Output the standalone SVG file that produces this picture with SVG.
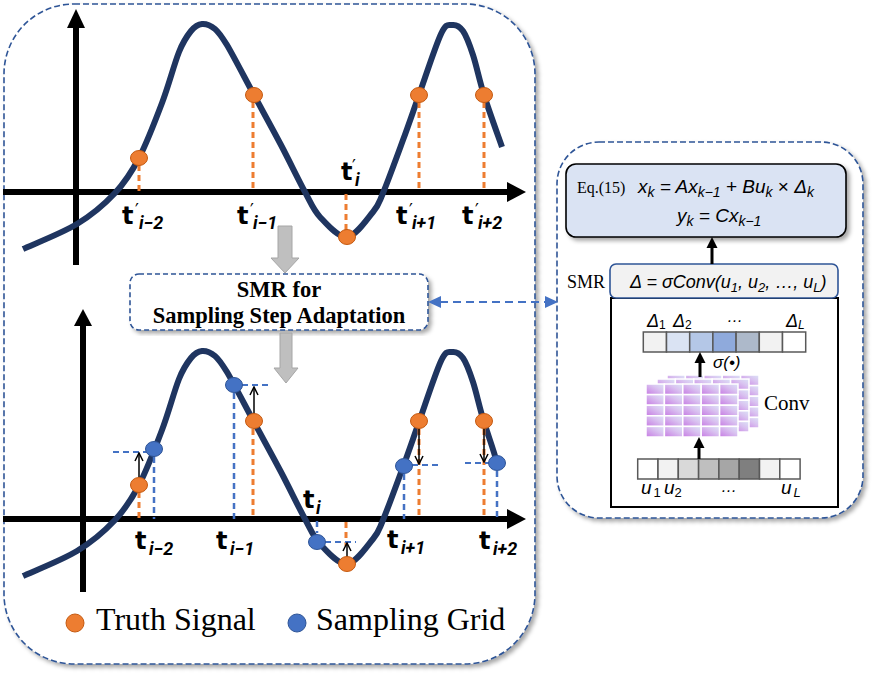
<svg xmlns="http://www.w3.org/2000/svg" xmlns:xlink="http://www.w3.org/1999/xlink" width="875" height="676" viewBox="0 0 875 676">
<defs>
<style>
.panel{fill:#fff;stroke:#2F5597;stroke-width:1.6;stroke-dasharray:6 3}
.axis{stroke:#000;stroke-width:6;fill:none}
.curve{fill:none;stroke:#1F3560;stroke-width:6;stroke-linecap:butt;stroke-linejoin:round}
.od{stroke:#ED7D31;stroke-width:3;stroke-dasharray:6 4;fill:none}
.bd{stroke:#4472C4;stroke-width:2.5;stroke-dasharray:6 4;fill:none}
.bdh{stroke:#4472C4;stroke-width:2;stroke-dasharray:6 4;fill:none}
.op{fill:#ED7D31;stroke:#C55A11;stroke-width:1}
.bp{fill:#4472C4;stroke:#2F5597;stroke-width:1}
.tl{font-family:"DejaVu Sans",sans-serif;font-weight:bold;font-size:24px;fill:#000}
.ts{font-family:Roboto,"Liberation Sans",sans-serif;font-weight:bold;font-style:italic;font-size:18px}
.pr{font-family:"DejaVu Sans",sans-serif;font-weight:normal;font-size:17px}
.serif{font-family:"Liberation Serif","Times New Roman",serif;fill:#000}
.math{font-family:"Liberation Sans",Arial,sans-serif;font-style:italic;fill:#000}
.cell{stroke:#595959;stroke-width:1.5}
.gray{fill:#BFBFBF;stroke:#A6A6A6;stroke-width:1}
.blk{stroke:#000;stroke-width:3;fill:none}
.thin{stroke:#000;stroke-width:1.5;fill:none}
</style>
<filter id="sh" x="-10%" y="-10%" width="120%" height="120%">
<feDropShadow dx="3" dy="3" stdDeviation="2" flood-color="#000" flood-opacity="0.35"/>
</filter>
<marker id="chev" markerUnits="userSpaceOnUse" viewBox="0 0 10 10" refX="9" refY="5" markerWidth="10" markerHeight="10" orient="auto">
<path d="M1,1 L9,5 L1,9" fill="none" stroke="#000" stroke-width="1.5"/>
</marker>
<linearGradient id="cg" x1="0" y1="1" x2="1" y2="0">
<stop offset="0" stop-color="#C77BE3"/>
<stop offset="0.6" stop-color="#D9C2F0"/>
<stop offset="1" stop-color="#DCE4F7"/>
</linearGradient>
<g id="convLayer">
<rect x="0" y="0" width="92" height="53" fill="#fff"/>
<g fill="url(#cg)" stroke="#fff" stroke-width="1.5">
<rect x="0" y="0" width="18.4" height="10.6"/><rect x="18.4" y="0" width="18.4" height="10.6"/><rect x="36.8" y="0" width="18.4" height="10.6"/><rect x="55.2" y="0" width="18.4" height="10.6"/><rect x="73.6" y="0" width="18.4" height="10.6"/>
<rect x="0" y="10.6" width="18.4" height="10.6"/><rect x="18.4" y="10.6" width="18.4" height="10.6"/><rect x="36.8" y="10.6" width="18.4" height="10.6"/><rect x="55.2" y="10.6" width="18.4" height="10.6"/><rect x="73.6" y="10.6" width="18.4" height="10.6"/>
<rect x="0" y="21.2" width="18.4" height="10.6"/><rect x="18.4" y="21.2" width="18.4" height="10.6"/><rect x="36.8" y="21.2" width="18.4" height="10.6"/><rect x="55.2" y="21.2" width="18.4" height="10.6"/><rect x="73.6" y="21.2" width="18.4" height="10.6"/>
<rect x="0" y="31.8" width="18.4" height="10.6"/><rect x="18.4" y="31.8" width="18.4" height="10.6"/><rect x="36.8" y="31.8" width="18.4" height="10.6"/><rect x="55.2" y="31.8" width="18.4" height="10.6"/><rect x="73.6" y="31.8" width="18.4" height="10.6"/>
<rect x="0" y="42.4" width="18.4" height="10.6"/><rect x="18.4" y="42.4" width="18.4" height="10.6"/><rect x="36.8" y="42.4" width="18.4" height="10.6"/><rect x="55.2" y="42.4" width="18.4" height="10.6"/><rect x="73.6" y="42.4" width="18.4" height="10.6"/>
</g>
</g>
<path id="sig" d="M23,249 C32,244.8 61.7,233.3 77,224 C92.3,214.7 104.7,204 115,193 C125.3,182 131.2,173 139,158 C146.8,143 155.3,120.7 162,103 C168.7,85.3 174.2,64 179,52 C183.8,40 187.2,35.7 191,31 C194.8,26.3 198,24.3 202,24 C206,23.7 210.8,25.5 215,29 C219.2,32.5 222,37 227,45 C233.5,56 245,78.3 254,95 C263,111.7 272.5,128.8 281,145 C289.5,161.2 298.5,180 305,192 C311.5,204 313,209.5 320,217 C327,224.5 338.2,237.8 347,237 C355.8,236.2 367,219.3 373,212 C379,204.7 378,205 383,193 C388,181 397,156.3 403,140 C409,123.7 412.7,112.7 419,95 C425.3,77.3 435.5,45.7 441,34 C446.5,22.3 448.3,25.5 452,25 C455.7,24.5 459.5,26 463,31 C466.5,36 469.5,44.3 473,55 C476.5,65.7 479.2,79.7 484,95"/>
</defs>

<rect width="875" height="676" fill="#fff"/>

<g id="left-panel">
<rect class="panel" x="4" y="4" width="531" height="660" rx="70" ry="70" filter="url(#sh)"/>
</g>
<g id="right-panel">
<rect class="panel" x="557" y="142" width="306" height="376" rx="42" ry="42" filter="url(#sh)"/>
</g>

<g id="top-graph">
<line class="axis" x1="76" y1="265" x2="76" y2="26"/>
<polygon points="67,28 85,28 76,9" fill="#000"/>
<line class="axis" x1="3" y1="192" x2="509" y2="192"/>
<polygon points="507,182 507,202 526,192" fill="#000"/>
<use href="#sig" class="curve"/>
<path class="curve" d="M484,95 C488.8,110.3 499,138.3 502,147"/>
<line class="od" x1="139" y1="165" x2="139" y2="192"/>
<line class="od" x1="253" y1="102" x2="253" y2="192"/>
<line class="od" x1="346" y1="194" x2="346" y2="230"/>
<line class="od" x1="419" y1="102" x2="419" y2="192"/>
<line class="od" x1="484" y1="102" x2="484" y2="192"/>
<ellipse class="op" cx="139" cy="158" rx="8.5" ry="7.5"/>
<ellipse class="op" cx="254" cy="95" rx="8.5" ry="7.5"/>
<ellipse class="op" cx="347" cy="237" rx="8.5" ry="7.5"/>
<ellipse class="op" cx="419" cy="95" rx="8.5" ry="7.5"/>
<ellipse class="op" cx="484" cy="95" rx="8.5" ry="7.5"/>
<text class="tl" x="122" y="224">t<tspan class="pr" x="135" y="216">′</tspan><tspan class="ts" x="139" y="229">i−2</tspan></text>
<text class="tl" x="237" y="224">t<tspan class="pr" x="250" y="216">′</tspan><tspan class="ts" x="253" y="229">i−1</tspan></text>
<text class="tl" x="341" y="180">t<tspan class="pr" x="352" y="172">′</tspan><tspan class="ts" x="355" y="186">i</tspan></text>
<text class="tl" x="396" y="224">t<tspan class="pr" x="409" y="216">′</tspan><tspan class="ts" x="412" y="229">i+1</tspan></text>
<text class="tl" x="462" y="224">t<tspan class="pr" x="475" y="216">′</tspan><tspan class="ts" x="478" y="229">i+2</tspan></text>
</g>

<g id="bottom-graph">
<line class="axis" x1="83" y1="592" x2="83" y2="324"/>
<polygon points="74,326 92,326 83,309" fill="#000"/>
<line class="axis" x1="3" y1="519" x2="509" y2="519"/>
<polygon points="507,509 507,529 526,519" fill="#000"/>
<g transform="translate(0,327)">
<use href="#sig" class="curve"/>
<path class="curve" d="M484,95 C488.8,110.3 494,124 497,136"/>
</g>
<line class="od" x1="139" y1="492" x2="139" y2="519"/>
<line class="od" x1="253" y1="429" x2="253" y2="519"/>
<line class="od" x1="346" y1="522" x2="346" y2="546"/>
<line class="od" x1="419" y1="429" x2="419" y2="519"/>
<line class="od" x1="484" y1="429" x2="484" y2="519"/>
<line class="bd" x1="154" y1="457" x2="154" y2="519"/>
<line class="bd" x1="234" y1="393" x2="234" y2="519"/>
<line class="bd" x1="317" y1="521" x2="317" y2="533"/>
<line class="bd" x1="404" y1="474" x2="404" y2="519"/>
<line class="bd" x1="497" y1="471" x2="497" y2="519"/>
<line class="bdh" x1="113" y1="452" x2="146" y2="452"/>
<line class="bdh" x1="242" y1="385" x2="270" y2="385"/>
<line class="bdh" x1="325" y1="542" x2="356" y2="542"/>
<line class="bdh" x1="412" y1="465" x2="439" y2="465"/>
<line class="bdh" x1="465" y1="463" x2="489" y2="463"/>
<line class="thin" x1="139" y1="477" x2="139" y2="453" marker-end="url(#chev)"/>
<line class="thin" x1="254" y1="414" x2="254" y2="387" marker-end="url(#chev)"/>
<line class="thin" x1="347" y1="557" x2="347" y2="543" marker-end="url(#chev)"/>
<line class="thin" x1="419" y1="429" x2="419" y2="464" marker-end="url(#chev)"/>
<line class="thin" x1="484" y1="429" x2="484" y2="462" marker-end="url(#chev)"/>
<ellipse class="op" cx="139" cy="485" rx="8.5" ry="7.5"/>
<ellipse class="op" cx="254" cy="421" rx="8.5" ry="7.5"/>
<ellipse class="op" cx="347" cy="564" rx="8.5" ry="7.5"/>
<ellipse class="op" cx="419" cy="421" rx="8.5" ry="7.5"/>
<ellipse class="op" cx="484" cy="421" rx="8.5" ry="7.5"/>
<ellipse class="bp" cx="154" cy="449" rx="8.5" ry="7.5"/>
<ellipse class="bp" cx="234" cy="385" rx="8.5" ry="7.5"/>
<ellipse class="bp" cx="317" cy="542" rx="8.5" ry="7.5"/>
<ellipse class="bp" cx="404" cy="466" rx="8.5" ry="7.5"/>
<ellipse class="bp" cx="497" cy="463" rx="8.5" ry="7.5"/>
<text class="tl" x="135" y="549">t<tspan class="ts" x="149" y="555">i−2</tspan></text>
<text class="tl" x="216" y="549">t<tspan class="ts" x="230" y="555">i−1</tspan></text>
<text class="tl" x="303" y="508">t<tspan class="ts" x="316" y="514">i</tspan></text>
<text class="tl" x="387" y="548">t<tspan class="ts" x="401" y="554">i+1</tspan></text>
<text class="tl" x="479" y="549">t<tspan class="ts" x="493" y="555">i+2</tspan></text>
</g>

<g id="smr-box">
<rect x="130" y="274" width="298" height="56" rx="9" fill="#fff" stroke="#2F5597" stroke-width="1.6" stroke-dasharray="5 3" filter="url(#sh)"/>
<text class="serif" x="279" y="297" font-size="22.5" font-weight="bold" text-anchor="middle">SMR for</text>
<text class="serif" x="279" y="323" font-size="22.5" font-weight="bold" text-anchor="middle">Sampling Step Adaptation</text>
</g>

<g id="smr-module">
<rect x="611" y="298" width="227" height="209" fill="#fff" stroke="#000" stroke-width="2"/>
<rect x="610" y="264" width="228" height="34" rx="6" fill="#F2F2F2" stroke="#2F5597" stroke-width="1.6"/>
<text class="serif" x="567" y="288" font-size="18">SMR</text>
<text class="math" x="630" y="288" font-size="18">Δ = σConv(u<tspan font-size="13" dy="4">1</tspan><tspan dy="-4">, u</tspan><tspan font-size="13" dy="4">2</tspan><tspan dy="-4">, …, u</tspan><tspan font-size="13" dy="4">L</tspan><tspan dy="-4">)</tspan></text>
</g>

<g id="eq-box">
<rect x="566" y="164" width="280" height="73" rx="10" fill="#DAE3F3" stroke="#000" stroke-width="1.6" filter="url(#sh)"/>
<text class="serif" x="577" y="193" font-size="16">Eq.(15)</text>
<text class="math" x="638" y="193" font-size="19">x<tspan font-size="14" dy="4">k</tspan><tspan dy="-4"> = A</tspan>x<tspan font-size="14" dy="4">k−1</tspan><tspan dy="-4"> + B</tspan>u<tspan font-size="14" dy="4">k</tspan><tspan dy="-4" font-style="normal"> × </tspan>Δ<tspan font-size="14" dy="4">k</tspan></text>
<text class="math" x="677" y="222" font-size="19">y<tspan font-size="14" dy="4">k</tspan><tspan dy="-4"> = C</tspan>x<tspan font-size="14" dy="4">k−1</tspan></text>
</g>

<g id="delta-row">
<rect class="cell" x="643.3" y="332" width="23.2" height="20" fill="#F2F2F2"/>
<rect class="cell" x="666.5" y="332" width="23.2" height="20" fill="#DAE3F3"/>
<rect class="cell" x="689.7" y="332" width="23.2" height="20" fill="#B4C7E7"/>
<rect class="cell" x="712.9" y="332" width="23.2" height="20" fill="#8FAADC"/>
<rect class="cell" x="736.1" y="332" width="23.2" height="20" fill="#ADB9CA"/>
<rect class="cell" x="759.3" y="332" width="23.2" height="20" fill="#F2F2F2"/>
<rect class="cell" x="782.5" y="332" width="23.2" height="20" fill="#FFFFFF"/>
<text class="math" x="647" y="327" font-size="18">Δ<tspan font-style="normal" font-size="12" dy="2">1</tspan></text>
<text class="math" x="673" y="327" font-size="18">Δ<tspan font-style="normal" font-size="12" dy="2">2</tspan></text>
<text class="math" x="727" y="322" font-size="16" font-style="normal">…</text>
<text class="math" x="786" y="327" font-size="18">Δ<tspan font-size="12" dy="2">L</tspan></text>
</g>

<g id="conv">
<use href="#convLayer" x="667" y="375"/>
<use href="#convLayer" x="657" y="379"/>
<use href="#convLayer" x="646" y="384"/>
<text class="serif" x="764" y="410" font-size="21">Conv</text>
<text class="math" x="713" y="368" font-size="17">σ(•)</text>
</g>

<g id="input-row">
<rect class="cell" x="637.7" y="459" width="20.3" height="20" fill="#FFFFFF"/>
<rect class="cell" x="658" y="459" width="20.3" height="20" fill="#F2F2F2"/>
<rect class="cell" x="678.3" y="459" width="20.3" height="20" fill="#D9D9D9"/>
<rect class="cell" x="698.6" y="459" width="20.3" height="20" fill="#BFBFBF"/>
<rect class="cell" x="718.9" y="459" width="20.3" height="20" fill="#A6A6A6"/>
<rect class="cell" x="739.2" y="459" width="20.3" height="20" fill="#7F7F7F"/>
<rect class="cell" x="759.5" y="459" width="20.3" height="20" fill="#F2F2F2"/>
<rect class="cell" x="779.8" y="459" width="20.3" height="20" fill="#FFFFFF"/>
<text class="math" x="641" y="494" font-size="19">u<tspan font-style="normal" font-size="13" dx="2" dy="3">1</tspan></text>
<text class="math" x="664" y="494" font-size="19">u<tspan font-style="normal" font-size="13" dy="3">2</tspan></text>
<text class="math" x="721" y="492" font-size="16" font-style="normal">…</text>
<text class="math" x="781" y="494" font-size="19">u<tspan font-size="13" dx="2" dy="3">L</tspan></text>
</g>

<g id="connectors">
<polygon class="gray" points="278,226 292,226 292,258 299,258 285,273 271,258 278,258"/>
<polygon class="gray" points="280,333 292,333 292,368 298,368 286,383 274,368 280,368"/>
<line x1="440" y1="302" x2="546" y2="302" stroke="#4472C4" stroke-width="2" stroke-dasharray="8 5"/>
<polygon points="428,302 441,296 441,308" fill="#4472C4"/>
<polygon points="558,302 545,296 545,308" fill="#4472C4"/>
<line class="blk" x1="712" y1="264" x2="712" y2="246"/>
<polygon points="706.5,248 717.5,248 712,237" fill="#000"/>
<line class="blk" x1="700" y1="377" x2="700" y2="361"/>
<polygon points="694.5,363 705.5,363 700,352" fill="#000"/>
<line class="blk" x1="699" y1="459" x2="699" y2="446"/>
<polygon points="693.5,448 704.5,448 699,437" fill="#000"/>
</g>

<g id="legend">
<circle cx="75" cy="623" r="9" class="op"/>
<text class="serif" x="96" y="630" font-size="32">Truth Signal</text>
<circle cx="297" cy="623" r="9" class="bp"/>
<text class="serif" x="316" y="630" font-size="32">Sampling Grid</text>
</g>
</svg>
